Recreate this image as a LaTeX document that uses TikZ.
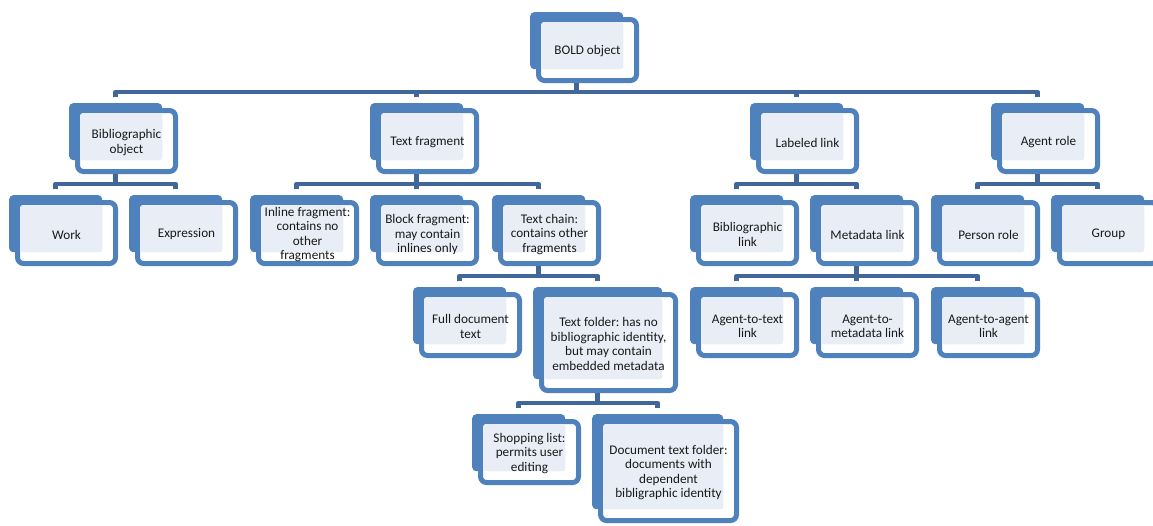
\documentclass[tikz,border=0pt]{standalone}
\usepackage{fontspec}
\setmainfont{Carlito}
\usepackage{tikz}
\usetikzlibrary{positioning}
\frenchspacing

\definecolor{boxblue}{HTML}{4F81BD}
\definecolor{linkblue}{HTML}{41679A}
\definecolor{paleblue}{HTML}{E9EEF6}

% One hierarchy box: name, top-left corner, width, height, text
\newcommand{\orgbox}[5]{%
    \node[back, minimum width=#3pt, minimum height=#4pt] (#1) at (#2) {};
    \node[front, minimum width=#3pt+5pt, minimum height=#4pt+4pt,
          below right=5pt and 6pt of #1.north west] (#1-f) {};
    \fill[lightfill] ([shift={(5pt,-5pt)}]#1-f.north west) rectangle (#1.south east);
    \node[boxtext] (#1-t) at ([yshift=-1.5pt]#1-f.center) {#5};
}

\begin{document}
\begin{tikzpicture}[x=1pt, y=-1pt,
        back/.style={anchor=north west, fill=boxblue, rounded corners=4pt, inner sep=0pt},
        front/.style={draw=boxblue, fill=white, line width=5pt, rounded corners=6pt, inner sep=0pt},
        lightfill/.style={fill=paleblue, rounded corners=3pt},
        boxtext/.style={align=center, inner sep=0pt, text=black!90, font=\fontsize{13.2}{14.5}\selectfont},
        link/.style={draw=linkblue, line width=4.5pt, line join=round}
    ]

    \useasboundingbox (0,0) rectangle (1153,525);

    % Top of the hierarchy
    \orgbox{bold}{530,12}{93}{57}{BOLD object}

    % First level
    \orgbox{biblio}{69,103}{93}{57}{Bibliographic\\object}
    \orgbox{textfrag}{370,103}{93}{57}{Text fragment}
    \orgbox{lablink}{750,103}{93}{57}{Labeled link}
    \orgbox{agent}{991,103}{93}{57}{Agent role}

    % Second level
    \orgbox{work}{9,195}{93}{57}{Work}
    \orgbox{expression}{129,195}{93}{57}{Expression}
    \orgbox{inline}{250,195}{93}{57}{Inline fragment:\\contains no\\other\\fragments}
    \orgbox{block}{370,195}{93}{57}{Block fragment:\\may contain\\inlines only}
    \orgbox{textchain}{492,195}{93}{57}{Text chain:\\contains other\\fragments}
    \orgbox{biblink}{690,195}{93}{57}{Bibliographic\\link}
    \orgbox{metalink}{810,195}{93}{57}{Metadata link}
    \orgbox{person}{931,195}{93}{57}{Person role}
    \orgbox{group}{1051,195}{93}{57}{Group}

    % Third level
    \orgbox{fulltext}{413,287}{93}{57}{Full document\\text}
    \orgbox{folder}{533,287}{129}{92}{Text folder: has no\\bibliographic identity,\\but may contain\\embedded metadata}
    \orgbox{agenttext}{690,287}{93}{57}{Agent-to-text\\link}
    \orgbox{agentmeta}{810,287}{93}{57}{Agent-to-\\metadata link}
    \orgbox{agentagent}{931,287}{93}{57}{Agent-to-agent\\link}

    % Fourth level
    \orgbox{shopping}{472,414}{93}{57}{Shopping list:\\permits user\\editing}
    \orgbox{docfolder}{592,414}{131}{95}{Document text folder:\\documents with\\dependent\\bibligraphic identity}

    % Bars just above each row of children
    \coordinate (bar-bold) at ([yshift=11pt]biblio.north);
    \coordinate (bar-biblio) at ([yshift=11pt]work.north);
    \coordinate (bar-textfrag) at ([yshift=11pt]inline.north);
    \coordinate (bar-lablink) at ([yshift=11pt]biblink.north);
    \coordinate (bar-agent) at ([yshift=11pt]person.north);
    \coordinate (bar-textchain) at ([yshift=11pt]fulltext.north);
    \coordinate (bar-metalink) at ([yshift=11pt]agenttext.north);
    \coordinate (bar-folder) at ([yshift=11pt]shopping.north);

    % Draw the connectors
    \draw[link] (bold-f.south -| bold.south) -- (bold.south |- bar-bold);
    \draw[link, shorten <=6pt, shorten >=6pt] (biblio.north) -- (bar-bold) -| (agent.north);
    \foreach \c in {textfrag, lablink}
        \draw[link, shorten >=6pt] (\c.north |- bar-bold) -- (\c.north);

    \draw[link] (biblio-f.south -| biblio.south) -- (biblio.south |- bar-biblio);
    \draw[link, shorten <=6pt, shorten >=6pt] (work.north) -- (bar-biblio) -| (expression.north);

    \draw[link] (textfrag-f.south -| textfrag.south) -- (textfrag.south |- bar-textfrag);
    \draw[link, shorten <=6pt, shorten >=6pt] (inline.north) -- (bar-textfrag) -| (textchain.north);
    \draw[link, shorten >=6pt] (block.north |- bar-textfrag) -- (block.north);

    \draw[link] (lablink-f.south -| lablink.south) -- (lablink.south |- bar-lablink);
    \draw[link, shorten <=6pt, shorten >=6pt] (biblink.north) -- (bar-lablink) -| (metalink.north);

    \draw[link] (agent-f.south -| agent.south) -- (agent.south |- bar-agent);
    \draw[link, shorten <=6pt, shorten >=6pt] (person.north) -- (bar-agent) -| (group.north);

    \draw[link] (textchain-f.south -| textchain.south) -- (textchain.south |- bar-textchain);
    \draw[link, shorten <=6pt, shorten >=6pt] (fulltext.north) -- (bar-textchain) -| (folder.north);

    \draw[link] (metalink-f.south -| metalink.south) -- (metalink.south |- bar-metalink);
    \draw[link, shorten <=6pt, shorten >=6pt] (agenttext.north) -- (bar-metalink) -| (agentagent.north);
    \draw[link, shorten >=6pt] (agentmeta.north |- bar-metalink) -- (agentmeta.north);

    \draw[link] (folder-f.south -| folder.south) -- (folder.south |- bar-folder);
    \draw[link, shorten <=6pt, shorten >=6pt] (shopping.north) -- (bar-folder) -| (docfolder.north);

\end{tikzpicture}
\end{document}
